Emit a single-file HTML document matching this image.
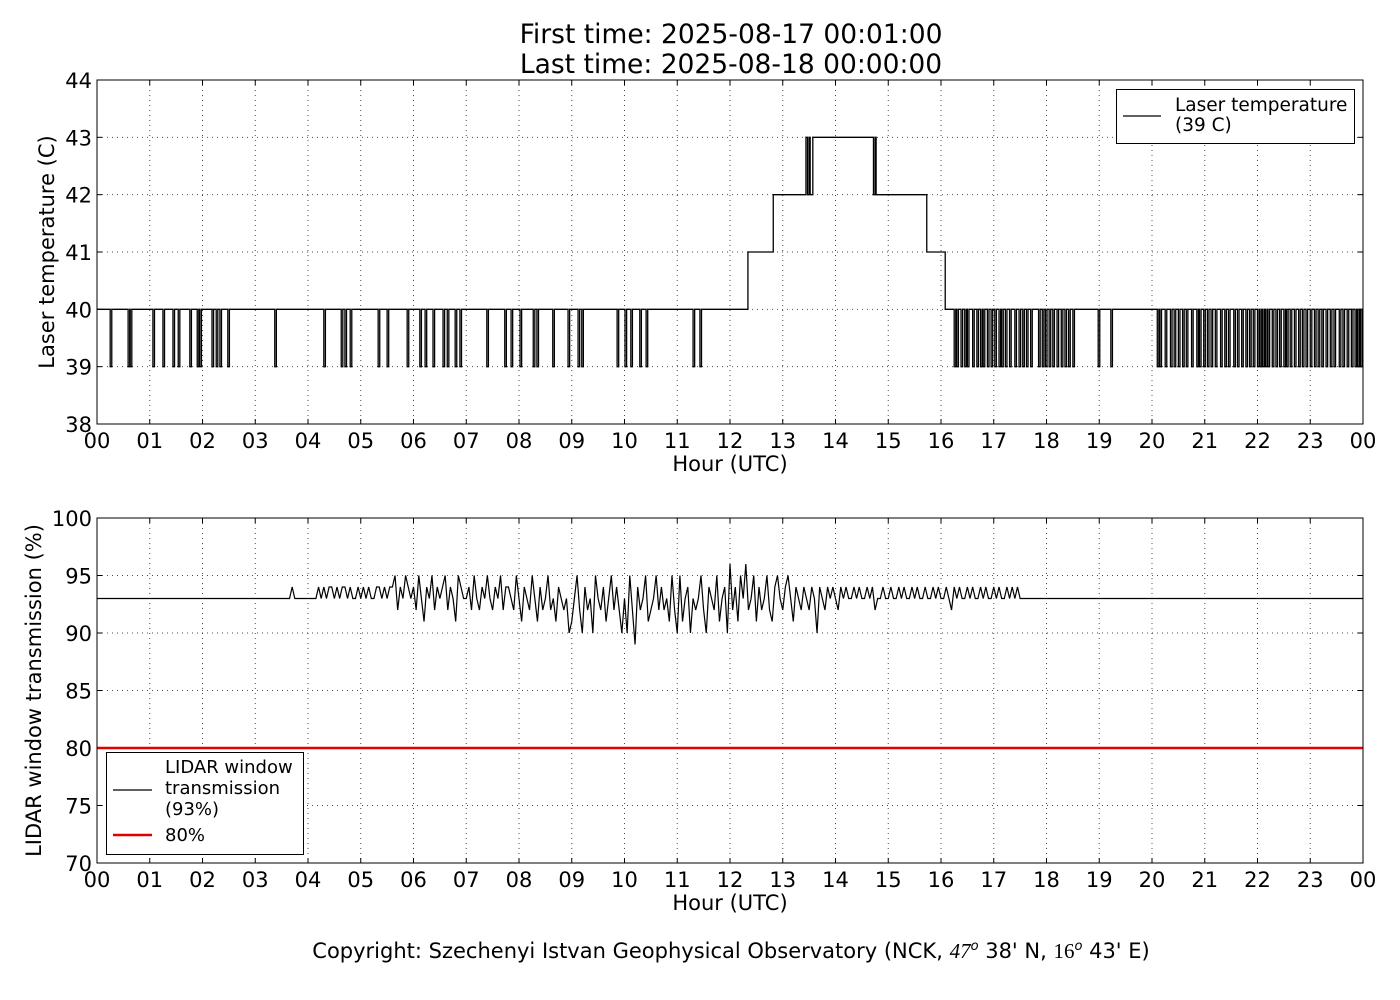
<!DOCTYPE html>
<html><head><meta charset="utf-8"><style>
body{margin:0;background:#fff;}
svg{display:block;font-family:"DejaVu Sans","Liberation Sans",sans-serif;}
</style></head><body>
<svg id="c" width="1400" height="1000" viewBox="0 0 1400 1000">
<rect width="1400" height="1000" fill="#fff"/>
<text x="731" y="43" font-size="26.5" text-anchor="middle">First time: 2025-08-17 00:01:00</text>
<text x="731" y="73" font-size="26.5" text-anchor="middle">Last time: 2025-08-18 00:00:00</text>
<g id="top"></g>
<g id="bot"></g>
<text x="731" y="958" font-size="21" text-anchor="middle">Copyright: Szechenyi Istvan Geophysical Observatory (NCK, <tspan font-family="Liberation Serif,serif" font-style="italic">47</tspan><tspan font-size="13" dy="-8" font-style="italic">o</tspan><tspan dy="8">  38' N, </tspan><tspan font-family="Liberation Serif,serif">16</tspan><tspan font-size="13" dy="-8" font-style="italic">o</tspan><tspan dy="8">  43' E)</tspan></text>
</svg>
<script>
const hourTicks=["00","01","02","03","04","05","06","07","08","09","10","11","12","13","14","15","16","17","18","19","20","21","22","23","00"];
const tempTicks=[38,39,40,41,42,43,44];
const transTicks=[70,75,80,85,90,95,100];
// laser temperature step levels: [start hour, level]
const tempSteps=[[0,40],[12.34,41],[12.82,42],[13.44,43],[13.47,42],[13.5,43],[13.52,42],[13.57,43],[14.72,42],[14.75,43],[14.77,42],[15.73,41],[16.08,40]];
// hours where temperature dips to 39 C
const tempDips=[0.25,0.59,0.63,1.06,1.25,1.44,1.54,1.76,1.90,1.95,2.18,2.26,2.33,2.48,3.37,4.30,4.63,4.70,4.80,5.33,5.50,5.88,6.12,6.22,6.37,6.56,6.64,6.79,6.88,7.39,7.73,7.85,8.02,8.27,8.34,8.64,8.93,9.12,9.19,9.86,10.01,10.12,10.29,10.41,11.30,11.43,
16.25,16.3,16.38,16.45,16.5,16.6,16.68,16.75,16.8,16.88,16.95,17.02,17.1,17.15,17.22,17.3,17.4,17.48,17.55,17.62,17.7,17.85,17.92,17.98,18.05,18.12,18.2,18.28,18.35,18.42,18.5,18.98,19.22,
20.1,20.15,20.25,20.35,20.42,20.5,20.58,20.65,20.75,20.85,20.9,20.98,21.05,21.12,21.2,21.3,21.38,21.45,21.55,21.62,21.7,21.78,21.85,21.92,22.0,22.05,22.1,22.15,22.2,22.28,22.35,22.42,22.5,22.55,22.62,22.7,22.78,22.85,22.92,23.0,23.08,23.15,23.22,23.3,23.38,23.45,23.55,23.62,23.7,23.78,23.85,23.9,23.95];
const transBase=93;
const transStart=3.6, transStep=0.05;
const transValues=[93,93,94,93,93,93,93,93,
93,93,93,93,94,93,94,93,94,94,93,94,93,94,94,93,94,93,93,94,
93,94,93,94,93,93,94,94,93,94,93,94,94,95,92,94,93,95,94,93,
94,92,95,93,91,94,93,95,92,94,93,94,95,92,94,93,91,95,94,93,
93,94,92,95,93,92,94,93,95,93,92,94,93,95,92,94,94,93,92,95,
93,91,94,93,92,95,93,91,94,92,93,95,92,93,91,94,93,92,93,90,
91,93,95,92,90,94,92,93,90,95,93,92,94,91,93,95,92,94,92,90,
93,90,95,92,89,94,92,93,95,91,92,93,95,92,94,92,93,91,95,92,
90,95,91,93,94,90,93,92,93,95,92,90,94,93,92,95,91,93,94,90,
96,92,94,91,95,93,96,92,93,95,91,94,92,93,95,92,91,94,95,93,
92,94,95,93,91,94,93,92,94,93,92,94,93,90,94,93,92,94,93,94,
93,92,94,93,94,93,93,94,93,94,93,93,94,93,94,92,93,93,94,93,
93,94,93,93,94,93,94,93,93,94,93,94,93,93,94,93,93,94,93,94,
93,93,94,93,92,94,93,94,93,93,94,93,94,93,93,94,93,94,93,93,
94,93,94,93,93,94,93,94,93,94,93,93,93];
const threshold=80;

const NS="http://www.w3.org/2000/svg";
function mk(p,tag,at){const e=document.createElementNS(NS,tag);for(const k in at)e.setAttribute(k,at[k]);p.appendChild(e);return e;}
const X0=97,X1=1363;
const xs=h=>X0+(X1-X0)*h/24;

function panel(g,top,bottom,ymin,ymax,yticks,ylabel,ylx){
  const ys=v=>bottom-(bottom-top)*(v-ymin)/(ymax-ymin);
  hourTicks.forEach((t,i)=>{
    const x=xs(i);
    if(i>0&&i<24){const l=mk(g,'line',{x1:x,x2:x,y1:top,y2:bottom,stroke:'#000','stroke-width':1,'stroke-dasharray':'1,4',opacity:0.7});
    
    }
    mk(g,'line',{x1:x,x2:x,y1:bottom,y2:bottom-5,stroke:'#000'});
    mk(g,'line',{x1:x,x2:x,y1:top,y2:top+5,stroke:'#000'});
    const tx=mk(g,'text',{x:x,y:bottom+24,'font-size':21,'text-anchor':'middle'});tx.textContent=t;
    
    
  });
  yticks.forEach((v,i)=>{
    const y=ys(v);
    if(i>0&&i<yticks.length-1){const l=mk(g,'line',{x1:X0,x2:X1,y1:y,y2:y,stroke:'#000','stroke-width':1,'stroke-dasharray':'1,4',opacity:0.7});
    
    }
    mk(g,'line',{x1:X0,x2:X0+5,y1:y,y2:y,stroke:'#000'});
    mk(g,'line',{x1:X1,x2:X1-5,y1:y,y2:y,stroke:'#000'});
    const tx=mk(g,'text',{x:X0-5,y:y+8,'font-size':21,'text-anchor':'end'});tx.textContent=v;
    
    
  });
  const xl=mk(g,'text',{x:(X0+X1)/2,y:bottom+47,'font-size':21,'text-anchor':'middle'});xl.textContent='Hour (UTC)';
  
  
  const yl=mk(g,'text',{x:0,y:0,'font-size':21,'text-anchor':'middle',transform:`translate(${ylx},${(top+bottom)/2}) rotate(-90)`});yl.textContent=ylabel;
  
  
  return ys;
}

// top panel
const gT=document.getElementById('top');
const ysT=panel(gT,80,424,38,44,tempTicks,'Laser temperature (C)',54);
{
  const levelAt=h=>{let l=tempSteps[0][1];for(const s of tempSteps){if(h>=s[0])l=s[1];}return l;};
  const ev=[];
  tempSteps.forEach(s=>ev.push([s[0],'s']));
  tempDips.forEach(d=>{ev.push([d,'d0']);ev.push([d+0.03,'d1']);});
  ev.sort((a,b)=>a[0]-b[0]);
  let d=`M${xs(0)},${ysT(levelAt(0))}`;
  let dip=false;
  ev.forEach(e=>{
    if(e[1]==='d0')dip=true; else if(e[1]==='d1')dip=false;
    const v=dip?39:levelAt(e[0]+1e-9);
    d+=`H${xs(e[0])}V${ysT(v)}`;
  });
  d+=`H${xs(24)}`;
  const p=mk(gT,'path',{d:d,fill:'none',stroke:'#000','stroke-width':1.3});
  
  
}
mk(gT,'rect',{x:X0,y:80,width:X1-X0,height:344,fill:'none',stroke:'#000'});
{
  const lg=mk(gT,'g',{});
  
  
  mk(lg,'rect',{x:1116.5,y:89.5,width:238,height:54,fill:'#fff',stroke:'#000'});
  mk(lg,'line',{x1:1123,x2:1161,y1:116,y2:116,stroke:'#000','stroke-width':1.3});
  const t1=mk(lg,'text',{x:1175,y:111,'font-size':18.5});t1.textContent='Laser temperature';
  const t2=mk(lg,'text',{x:1175,y:131,'font-size':18.5});t2.textContent='(39 C)';
}

// bottom panel
const gB=document.getElementById('bot');
const ysB=panel(gB,518,863,70,100,transTicks,'LIDAR window transmission (%)',41);
{
  let d=`M${xs(0)},${ysB(transBase)}`;
  transValues.forEach((v,i)=>{d+=`L${xs(transStart+i*transStep)},${ysB(v)}`;});
  d+=`L${xs(24)},${ysB(transBase)}`;
  const p=mk(gB,'path',{d:d,fill:'none',stroke:'#000','stroke-width':1.2});
  
  
  const r=mk(gB,'line',{x1:xs(0),x2:xs(24),y1:ysB(threshold),y2:ysB(threshold),stroke:'#e00000','stroke-width':2.5});
  
  
}
mk(gB,'rect',{x:X0,y:518,width:X1-X0,height:345,fill:'none',stroke:'#000'});
{
  const lg=mk(gB,'g',{});
  
  
  mk(lg,'rect',{x:106.5,y:752.5,width:197,height:102,fill:'#fff',stroke:'#000'});
  mk(lg,'line',{x1:113,x2:152,y1:790,y2:790,stroke:'#000','stroke-width':1.3});
  [['LIDAR window',773],['transmission',794],['(93%)',815]].forEach(a=>{const t=mk(lg,'text',{x:165,y:a[1],'font-size':18});t.textContent=a[0];});
  mk(lg,'line',{x1:113,x2:152,y1:835,y2:835,stroke:'#e00000','stroke-width':2.5});
  const t=mk(lg,'text',{x:165,y:841,'font-size':18});t.textContent='80%';
}
</script>
</body></html>
